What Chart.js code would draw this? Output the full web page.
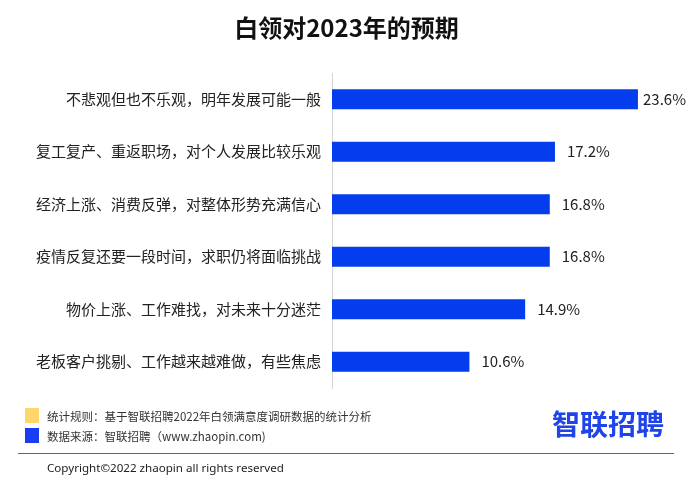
<!DOCTYPE html>
<html>
<head>
<meta charset="utf-8">
<script src="https://cdn.jsdelivr.net/npm/chart.js@4/dist/chart.umd.min.js"></script>
<style>
  html, body { margin: 0; padding: 0; background: #fff; }
  body { width: 693px; height: 485px; position: relative; overflow: hidden; font-family: "Noto Sans CJK SC", "Noto Sans", sans-serif; }
  #wrap { position: absolute; left: 0; top: 0; width: 693px; height: 485px; }
  .abs { position: absolute; white-space: nowrap; }
  #title { left: 0; top: 10px; width: 693px; text-align: center; font-size: 24px; font-weight: bold; color: #111; line-height: 34px; }
  .sq { position: absolute; width: 14px; height: 15px; }
  .note { font-size: 11.5px; color: #333; line-height: 16px; }
  #logo { left: 552px; top: 404px; font-size: 28px; font-weight: bold; color: #1e44ea; line-height: 38px; letter-spacing: 0px; }
  #rule { position: absolute; left: 18px; top: 453px; width: 656px; height: 0; border-top: 1.5px solid #666; }
  #copy { left: 47px; top: 460px; font-size: 11.6px; color: #222; line-height: 16px; font-family: "Noto Sans", "DejaVu Sans", sans-serif; }
</style>
</head>
<body>
<div id="wrap"><canvas id="c" width="693" height="485"></canvas></div>
<div id="title" class="abs">白领对2023年的预期</div>
<div class="sq" style="left:25px;top:408px;background:#ffd66b;"></div>
<div class="sq" style="left:25px;top:428px;background:#1a3cf5;"></div>
<div class="abs note" style="left:47px;top:408px;">统计规则：基于智联招聘2022年白领满意度调研数据的统计分析</div>
<div class="abs note" style="left:47px;top:428px;">数据来源：智联招聘（www.zhaopin.com)</div>
<div id="logo" class="abs">智联招聘</div>
<div id="rule"></div>
<div id="copy" class="abs">Copyright©2022 zhaopin all rights reserved</div>
<script>
const categories = [
  "不悲观但也不乐观，明年发展可能一般",
  "复工复产、重返职场，对个人发展比较乐观",
  "经济上涨、消费反弹，对整体形势充满信心",
  "疫情反复还要一段时间，求职仍将面临挑战",
  "物价上涨、工作难找，对未来十分迷茫",
  "老板客户挑剔、工作越来越难做，有些焦虑"
];
const values = [23.6, 17.2, 16.8, 16.8, 14.9, 10.6];

const labelFont = '15px "Noto Sans CJK SC", "Noto Sans", sans-serif';

const valueLabels = {
  id: 'valueLabels',
  afterDatasetsDraw(chart) {
    const ctx = chart.ctx;
    const meta = chart.getDatasetMeta(0);
    ctx.save();
    ctx.font = labelFont;
    ctx.fillStyle = '#222';
    ctx.textBaseline = 'middle';
    ctx.textAlign = 'left';
    meta.data.forEach((bar, i) => {
      const txt = values[i].toFixed(1) + '%';
      const w = ctx.measureText(txt).width;
      const x = Math.min(bar.x + 12, chart.width - 7 - w);
      ctx.fillText(txt, x, bar.y);
    });
    ctx.restore();
  }
};

new Chart(document.getElementById('c'), {
  type: 'bar',
  data: {
    labels: categories,
    datasets: [{
      data: values,
      backgroundColor: '#033ded',
      borderWidth: 0,
      categoryPercentage: 1,
      barPercentage: 0.38
    }]
  },
  options: {
    indexAxis: 'y',
    responsive: false,
    animation: false,
    devicePixelRatio: 1,
    layout: { padding: { top: 73, bottom: 97, left: 0, right: 11 } },
    plugins: { legend: { display: false }, tooltip: { enabled: false }, title: { display: false } },
    scales: {
      x: { display: false, min: 0, max: 27 },
      y: {
        grid: { display: false, drawTicks: false },
        border: { display: true, color: '#d4d4d4', width: 1 },
        ticks: { color: '#222', font: { family: '"Noto Sans CJK SC", "Noto Sans", sans-serif', size: 15 }, padding: 11 },
        afterFit(scale) { scale.width = 332; }
      }
    }
  },
  plugins: [valueLabels]
});
</script>
</body>
</html>
